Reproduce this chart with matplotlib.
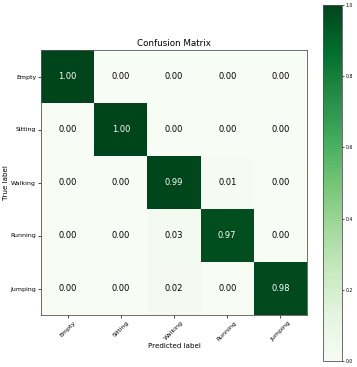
import numpy as np
import matplotlib
matplotlib.use("Agg")
import matplotlib.pyplot as plt

classes = ["Empty", "Sitting", "Walking", "Running", "Jumping"]
cm = np.array([
    [1.00, 0.00, 0.00, 0.00, 0.00],
    [0.00, 1.00, 0.00, 0.00, 0.00],
    [0.00, 0.00, 0.99, 0.01, 0.00],
    [0.00, 0.00, 0.03, 0.97, 0.00],
    [0.00, 0.00, 0.02, 0.00, 0.98],
])

W, H = 357, 367
fig = plt.figure(figsize=(W / 100, H / 100), dpi=100)
ax = fig.add_axes([41 / W, (H - 315) / H, 266 / W, 265 / H])
cax = fig.add_axes([323 / W, (H - 361) / H, 19 / W, 356 / H])

im = ax.imshow(cm, interpolation="nearest", cmap="Greens", vmin=0, vmax=1, aspect="auto")
cb = fig.colorbar(im, cax=cax)
cb.ax.tick_params(labelsize=3.3, length=1.5, width=0.5, pad=1)
cb.outline.set_linewidth(0.6)
cb.outline.set_edgecolor("#555555")

ax.set_xticks(np.arange(len(classes)))
ax.set_yticks(np.arange(len(classes)))
ax.set_xticklabels(classes, rotation=45, fontsize=4.5)
ax.set_yticklabels(classes, fontsize=4.5)
ax.tick_params(length=2, width=0.5, pad=1.5)
ax.set_title("Confusion Matrix", fontsize=6.3, pad=3)
ax.set_xlabel("Predicted label", fontsize=5.1, labelpad=1)
ax.set_ylabel("True label", fontsize=5.1, labelpad=1)
for s in ax.spines.values():
    s.set_linewidth(0.6)
    s.set_color("#555555")

thresh = cm.max() / 2.0
for i in range(cm.shape[0]):
    for j in range(cm.shape[1]):
        ax.text(j, i, format(cm[i, j], ".2f"), ha="center", va="center", fontsize=6,
                color="white" if cm[i, j] > thresh else "black")

fig.savefig("out.png", dpi=100)
